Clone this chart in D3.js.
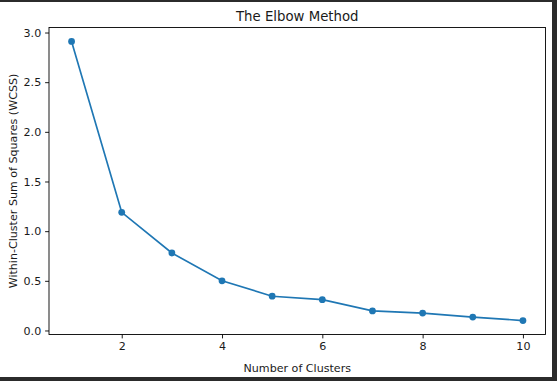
<!DOCTYPE html>
<html>
<head>
<meta charset="utf-8">
<script src="https://cdn.jsdelivr.net/npm/d3@7"></script>
<style>
  html, body { margin: 0; padding: 0; background: #2b2b2b; }
  svg { display: block; }
  text { font-family: "DejaVu Sans", sans-serif; fill: #1a1a1a; }
</style>
</head>
<body>
<div id="wrapper"></div>
<script>
// elbow curve data
const clusters = [1, 2, 3, 4, 5, 6, 7, 8, 9, 10];
const wcss = [2.91, 1.19, 0.78, 0.50, 0.345, 0.31, 0.197, 0.175, 0.135, 0.10];
const xTicks = [2, 4, 6, 8, 10];
const yTicks = [0, 0.5, 1.0, 1.5, 2.0, 2.5, 3.0];

const dataset = clusters.map((c, i) => ({ k: c, v: wcss[i] }));
const xAccessor = d => d.k;
const yAccessor = d => d.v;

let dimensions = {
  width: 557,
  height: 381,
  margin: { top: 27.5, right: 11.5, bottom: 46.5, left: 49 },
};
dimensions.boundedWidth = dimensions.width - dimensions.margin.left - dimensions.margin.right;
dimensions.boundedHeight = dimensions.height - dimensions.margin.top - dimensions.margin.bottom;

const wrapper = d3.select('#wrapper')
  .append('svg')
  .attr('width', dimensions.width)
  .attr('height', dimensions.height);

// white figure area inside the dark screenshot frame
wrapper.append('rect')
  .attr('x', 0).attr('y', 2)
  .attr('width', 552).attr('height', 375)
  .attr('fill', '#ffffff');

const bounds = wrapper.append('g')
  .attr('transform', `translate(${dimensions.margin.left}, ${dimensions.margin.top})`);

// matplotlib style 5% margins
const xPad = (d3.max(clusters) - d3.min(clusters)) * 0.05;
const yPad = (d3.max(wcss) - d3.min(wcss)) * 0.05;
const xScale = d3.scaleLinear()
  .domain([d3.min(clusters) - xPad, d3.max(clusters) + xPad])
  .range([0, dimensions.boundedWidth]);
const yScale = d3.scaleLinear()
  .domain([d3.min(wcss) - yPad, d3.max(wcss) + yPad])
  .range([dimensions.boundedHeight, 0]);

const lineGenerator = d3.line()
  .x(d => xScale(xAccessor(d)))
  .y(d => yScale(yAccessor(d)));

bounds.append('path')
  .attr('d', lineGenerator(dataset))
  .attr('fill', 'none')
  .attr('stroke', '#1f77b4')
  .attr('stroke-width', 1.67);

bounds.selectAll('circle')
  .data(dataset)
  .join('circle')
  .attr('cx', d => xScale(xAccessor(d)))
  .attr('cy', d => yScale(yAccessor(d)))
  .attr('r', 3.4)
  .attr('fill', '#1f77b4');

// axes
const xAxisGenerator = d3.axisBottom(xScale)
  .tickValues(xTicks)
  .tickFormat(d3.format('d'))
  .tickSize(3.9)
  .tickPadding(3.9);
const xAxis = bounds.append('g')
  .attr('transform', `translate(0, ${dimensions.boundedHeight})`)
  .call(xAxisGenerator);

const yAxisGenerator = d3.axisLeft(yScale)
  .tickValues(yTicks)
  .tickFormat(d3.format('.1f'))
  .tickSize(3.9)
  .tickPadding(3.9);
const yAxis = bounds.append('g').call(yAxisGenerator);

[xAxis, yAxis].forEach(ax => {
  ax.select('.domain').remove();
  ax.selectAll('.tick line').attr('stroke', '#000').attr('stroke-width', 0.9);
  ax.selectAll('.tick text')
    .style('font-family', '"DejaVu Sans", sans-serif')
    .style('font-size', '11.1px')
    .attr('fill', '#1a1a1a');
});

// frame (spines)
bounds.append('rect')
  .attr('x', 0).attr('y', 0)
  .attr('width', dimensions.boundedWidth)
  .attr('height', dimensions.boundedHeight)
  .attr('fill', 'none')
  .attr('stroke', '#000')
  .attr('stroke-width', 0.9);

// labels
const midX = dimensions.margin.left + dimensions.boundedWidth / 2;
wrapper.append('text')
  .attr('x', midX)
  .attr('y', 21)
  .attr('text-anchor', 'middle')
  .style('font-size', '13.3px')
  .text('The Elbow Method');

wrapper.append('text')
  .attr('x', midX)
  .attr('y', 371.5)
  .attr('text-anchor', 'middle')
  .style('font-size', '11.1px')
  .text('Number of Clusters');

wrapper.append('text')
  .attr('transform', `translate(17, ${dimensions.margin.top + dimensions.boundedHeight / 2}) rotate(-90)`)
  .attr('text-anchor', 'middle')
  .style('font-size', '11.1px')
  .text('Within-Cluster Sum of Squares (WCSS)');
</script>
</body>
</html>
